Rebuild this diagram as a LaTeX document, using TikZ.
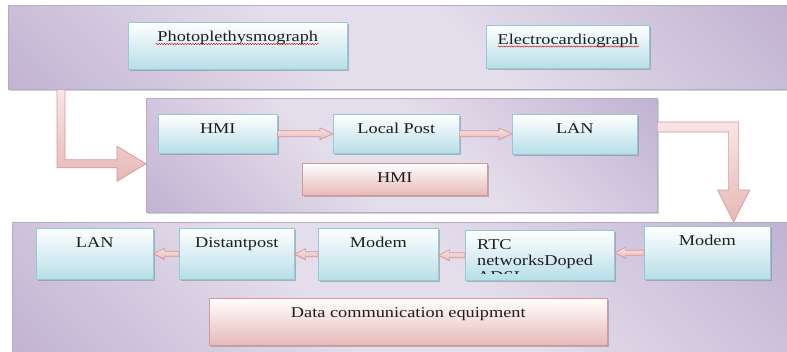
\documentclass[tikz,border=0pt]{standalone}
\usepackage{fontspec}
\setmainfont[FakeStretch=1.22]{Liberation Serif}
\usetikzlibrary{calc,shadows,decorations.pathmorphing}
\definecolor{panellight}{HTML}{E4DDEB}
\definecolor{paneldark}{HTML}{AF9DC5}
\definecolor{panelline}{HTML}{B8AACD}
\definecolor{boxblue}{HTML}{B7DEE8}
\definecolor{boxline}{HTML}{8FCBDB}
\definecolor{boxpink}{HTML}{E6B9B8}
\definecolor{arrowlight}{HTML}{F7E6E5}
\definecolor{pinkline}{HTML}{D99694}
\definecolor{ink}{HTML}{1E1E1E}
\pgfdeclarehorizontalshading{panelshade}{100bp}{color(0bp)=(paneldark); color(42bp)=(panellight); color(56bp)=(panellight); color(100bp)=(paneldark)}
\tikzset{
  panel/.style={anchor=north west, shade, shading=panelshade, shading angle=45,
    draw=panelline, line width=0.6pt, inner sep=0pt,
    drop shadow={shadow xshift=2pt, shadow yshift=-2pt, fill=black!45, opacity=0.4}},
  box/.style={anchor=north west, inner sep=0pt, text height=19pt, text=ink,
    font=\fontsize{15}{16}\selectfont, line width=0.6pt,
    drop shadow={shadow xshift=1.8pt, shadow yshift=-1.8pt, fill=black!50, opacity=0.5}},
  bluebox/.style={box, top color=white, bottom color=boxblue, draw=boxline},
  pinkbox/.style={box, top color=white, bottom color=boxpink, draw=pinkline},
  flow/.style={draw=pinkline, line width=0.7pt, top color=arrowlight, bottom color=boxpink},
  squiggle/.style={draw=red!85!black, line width=0.4pt, decorate,
    decoration={snake, amplitude=0.7pt, segment length=2.6pt}}
}
\begin{document}
\begin{tikzpicture}[x=1pt,y=-1pt]
  \useasboundingbox (0,0) rectangle (787,351);
  % panels
  \node[panel, minimum width=781pt, minimum height=84pt] (topp) at (8,5) {};
  \node[panel, minimum width=511pt, minimum height=114pt] (midp) at (146,98) {};
  \node[panel, minimum width=777pt, minimum height=132pt] (botp) at (12,222) {};

  % big arrows between the panels
  \path[flow] let \p1=(topp.south west), \p2=(midp.west) in
    (\x1+49pt,\y1) -- (\x1+57pt,\y1) -- (\x1+57pt,\y2-4.5pt) -- (\x2-29pt,\y2-4.5pt)
    -- (\x2-29pt,\y2+9pt) -- (\x2,\y2-8.5pt) -- (\x2-29pt,\y2-26pt)
    -- (\x2-29pt,\y2-12.5pt) -- (\x1+49pt,\y2-12.5pt) -- cycle;
  \path[flow] let \p1=(midp.north east), \p2=(botp.north east) in
    (\x1,\y1-24pt) -- (\x2-51pt,\y1-24pt) -- (\x2-51pt,\y2+32pt) -- (\x2-40pt,\y2+32pt)
    -- (\x2-56pt,\y2) -- (\x2-72pt,\y2+32pt) -- (\x2-61pt,\y2+32pt)
    -- (\x2-61pt,\y1-34pt) -- (\x1,\y1-34pt) -- cycle;

  % sensors
  \node[bluebox, minimum width=219pt, text depth=28pt] (ppg) at (128,22) {Photoplethysmograph};
  \node[bluebox, minimum width=163pt, text depth=24pt] (ecg) at (486,25) {Electrocardiograph};
  \draw[squiggle] ($(ppg.north)+(-82,22)$) -- ($(ppg.north)+(81,22)$);
  \draw[squiggle] ($(ecg.north)+(-70,21.5)$) -- ($(ecg.north)+(71,21.5)$);

  % local side
  \node[bluebox, minimum width=119pt, text depth=20pt] (hmi) at (158,114) {HMI};
  \node[bluebox, minimum width=126pt, text depth=20pt] (lpost) at (333,114) {Local Post};
  \node[bluebox, minimum width=125pt, text depth=21pt] (lan1) at (512,114) {LAN};
  \node[pinkbox, minimum width=185pt, text depth=13pt] (hmib) at (302,163) {HMI};

  % distant side
  \foreach \nm/\txt/\xx/\yy/\ww/\dd in {lan2/LAN/36/228/117/32,
      dpost/Distantpost/179/228/115/32, modem2/Modem/318/228/120/33,
      rtc//465/230/149/31, modem1/Modem/644/226/126/34}
    \node[bluebox, minimum width=\ww pt, text depth=\dd pt] (\nm) at (\xx,\yy) {\txt};
  \begin{scope}
    \clip ($(rtc.north west)+(1,1)$) rectangle ($(rtc.south east)+(-1,-7.5)$);
    \node[anchor=north west, align=left, inner sep=0pt, text=ink,
      font=\fontsize{15}{16}\selectfont] (rtctext) at ($(rtc.north west)+(12,9)$)
      {RTC\\networksDoped\\ADSL};
  \end{scope}
  \node[pinkbox, minimum width=398pt, text depth=28pt] (dce) at (209,298) {Data communication equipment};

  % small arrows
  \foreach \src/\dst in {hmi/lpost, lpost/lan1}
    \path[flow] let \p1=(\src.east), \p2=(\dst.west) in
      (\x1,\y1+3pt) -- (\x2-13pt,\y1+3pt) -- (\x2-13pt,\y1+6pt) -- (\x2,\y1)
      -- (\x2-13pt,\y1-6pt) -- (\x2-13pt,\y1-3pt) -- (\x1,\y1-3pt) -- cycle;
  \foreach \src/\dst in {modem1/rtc, rtc/modem2, modem2/dpost, dpost/lan2}
    \path[flow] let \p1=(\src.west), \p2=(\dst.east) in
      (\x1,\y1+2.5pt) -- (\x2+11pt,\y1+2.5pt) -- (\x2+11pt,\y1+5.5pt) -- (\x2,\y1)
      -- (\x2+11pt,\y1-5.5pt) -- (\x2+11pt,\y1-2.5pt) -- (\x1,\y1-2.5pt) -- cycle;
\end{tikzpicture}
\end{document}
